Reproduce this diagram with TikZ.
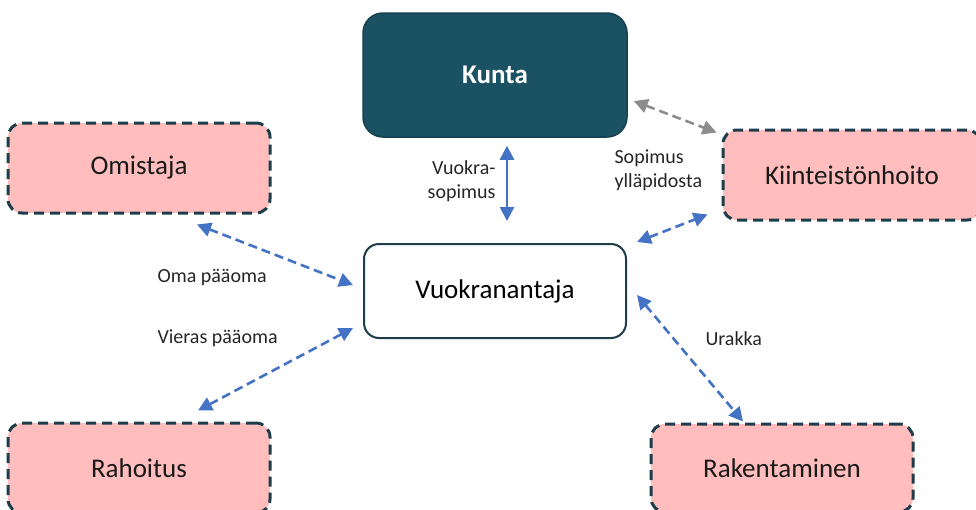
\documentclass[tikz,border=0pt]{standalone}
\usepackage{fontspec}
\setmainfont{Carlito}
\usetikzlibrary{arrows.meta}

\definecolor{kuntafill}{HTML}{1A5264}
\definecolor{kuntaline}{HTML}{15404F}
\definecolor{partyfill}{HTML}{FFBDBD}
\definecolor{partyline}{HTML}{1E3D4B}
\definecolor{linkblue}{HTML}{4472C4}
\definecolor{linkgray}{HTML}{8C8C8C}
\definecolor{labeltext}{HTML}{262626}

\tikzset{
  boxfont/.style={font=\fontsize{27}{32}\selectfont},
  labelfont/.style={font=\fontsize{20}{24}\selectfont, text=labeltext},
  mainbox/.style={draw=kuntaline, line width=1.5pt, fill=kuntafill,
    text=white, font=\fontsize{27}{32}\selectfont\bfseries,
    rounded corners=20pt, minimum width=264pt, minimum height=124pt},
  lessorbox/.style={boxfont, draw=partyline, line width=2pt, fill=white,
    text=black, rounded corners=15pt, minimum width=262pt, minimum height=94pt},
  partybox/.style={boxfont, draw=partyline, line width=3pt,
    dash pattern=on 10pt off 6pt, fill=partyfill, text=black!90,
    rounded corners=14pt, minimum width=262pt, minimum height=90pt},
  linktip/.tip={Triangle[length=14pt, width=14pt]},
  solidlink/.style={draw=linkblue, line width=2.5pt, {linktip}-{linktip}},
  dashlink/.style={draw=linkblue, line width=2.6pt, dash pattern=on 9pt off 5pt, {linktip}-{linktip}},
  graylink/.style={draw=linkgray, line width=2.6pt, dash pattern=on 9pt off 5pt, {linktip}-{linktip}},
}

\begin{document}
\begin{tikzpicture}[x=1pt, y=-1pt]
  \clip (0,0) rectangle (976,509);
  \fill[white] (0,0) rectangle (976,509);

  % parties
  \node[mainbox]   (kunta)   at (495,75)  {Kunta};
  \node[lessorbox] (vuokr)   at (495,291) {Vuokranantaja};
  \node[partybox]  (omist)   at (139,168) {Omistaja};
  \node[partybox, minimum width=258pt] (kiint) at (852,175) {Kiinteistönhoito};
  \node[partybox]  (rahoit)  at (139,468) {Rahoitus};
  \node[partybox, minimum height=88pt] (raken) at (782,468) {Rakentaminen};

  % relations
  \draw[solidlink] ([shift={(12,8)}]kunta.south) -- ([shift={(12,-22)}]vuokr.north);
  \draw[graylink]  ([shift={(6,26)}]kunta.east) -- ([shift={(-5,4)}]kiint.north west);
  \draw[dashlink]  ([shift={(10,-1)}]vuokr.north east) -- ([shift={(-14,-7)}]kiint.south west);
  \draw[dashlink]  ([shift={(58,10)}]omist.south) -- ([shift={(-10,-6)}]vuokr.west);
  \draw[dashlink]  ([shift={(59,-11)}]rahoit.north) -- ([shift={(-10,37)}]vuokr.west);
  \draw[dashlink]  ([shift={(10,4)}]vuokr.east) -- ([shift={(-39,-1)}]raken.north);

  % relation labels
  \node[labelfont, align=right, anchor=east] (lvuokra) at (499,181) {Vuokra-\\sopimus};
  \node[labelfont, align=left, anchor=west]  (lsopim)  at (611,170) {Sopimus\\ylläpidosta};
  \node[labelfont, anchor=west] (loma)    at (154,277) {Oma pääoma};
  \node[labelfont, anchor=west] (lvieras) at (154,338) {Vieras pääoma};
  \node[labelfont, anchor=west] (lurakka) at (702,339) {Urakka};
\end{tikzpicture}
\end{document}
